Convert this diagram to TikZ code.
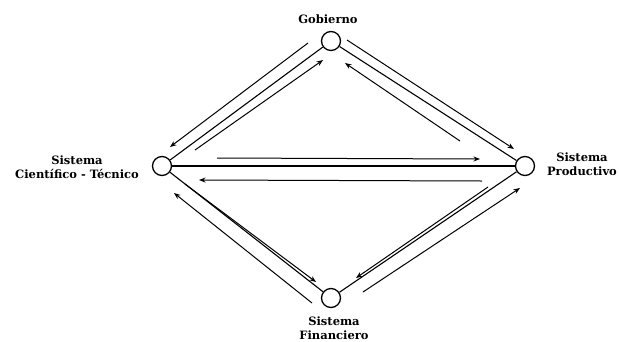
\documentclass[tikz,border=0pt]{standalone}
\usepackage{fontspec}
\setmainfont{DejaVu Serif}
\usetikzlibrary{arrows.meta}
\begin{document}
\begin{tikzpicture}[x=1pt,y=-1pt,
  sysnode/.style={circle,draw,line width=1.3pt,minimum size=19pt,inner sep=0pt},
  mainline/.style={line width=1.1pt},
  flow/.style={line width=1pt,-{Stealth[length=6.5pt,width=5pt]}},
  lbl/.style={font=\fontsize{11.5}{14}\selectfont\bfseries,align=center,inner sep=0pt}]
\useasboundingbox (0,0) rectangle (619,341);
% systems
\node[sysnode] (G) at (331,41) {};
\node[sysnode] (L) at (162,166) {};
\node[sysnode] (R) at (525,166) {};
\node[sysnode] (B) at (331,298) {};
% labels
\node[lbl,anchor=base] (tG) at (328,23) {Gobierno};
\node[lbl,anchor=base] (tL) at (77,178) {Sistema\\Científico - Técnico};
\node[lbl,anchor=base] (tR) at (582,175) {Sistema\\Productivo};
\node[lbl,anchor=base] (tB) at (334,339) {Sistema\\Financiero};
% main links
\draw[mainline] (L) -- (G);
\draw[mainline] (G) -- (R);
\draw[mainline] (L) -- (R);
\draw[mainline] (L) -- (B);
\draw[mainline] (B) -- (R);
% flow end points
\coordinate (a1) at (308,43);  \coordinate (a2) at (170,147);
\coordinate (b1) at (195,150); \coordinate (b2) at (323,60);
\coordinate (c1) at (347,40);  \coordinate (c2) at (514,149);
\coordinate (d1) at (460,141); \coordinate (d2) at (345,63);
\coordinate (e1) at (217,158); \coordinate (e2) at (480,159);
\coordinate (f1) at (482,181); \coordinate (f2) at (199,180);
\coordinate (g1) at (185,184); \coordinate (g2) at (316,282);
\coordinate (h1) at (312,303); \coordinate (h2) at (174,193);
\coordinate (i1) at (488,187); \coordinate (i2) at (356,278);
\coordinate (j1) at (363,292); \coordinate (j2) at (520,188);
% flows
\draw[flow] (a1) -- (a2);
\draw[flow] (b1) -- (b2);
\draw[flow] (c1) -- (c2);
\draw[flow] (d1) -- (d2);
\draw[flow] (e1) -- (e2);
\draw[flow] (f1) -- (f2);
\draw[flow] (g1) -- (g2);
\draw[flow] (h1) -- (h2);
\draw[flow] (i1) -- (i2);
\draw[flow] (j1) -- (j2);
\end{tikzpicture}
\end{document}
